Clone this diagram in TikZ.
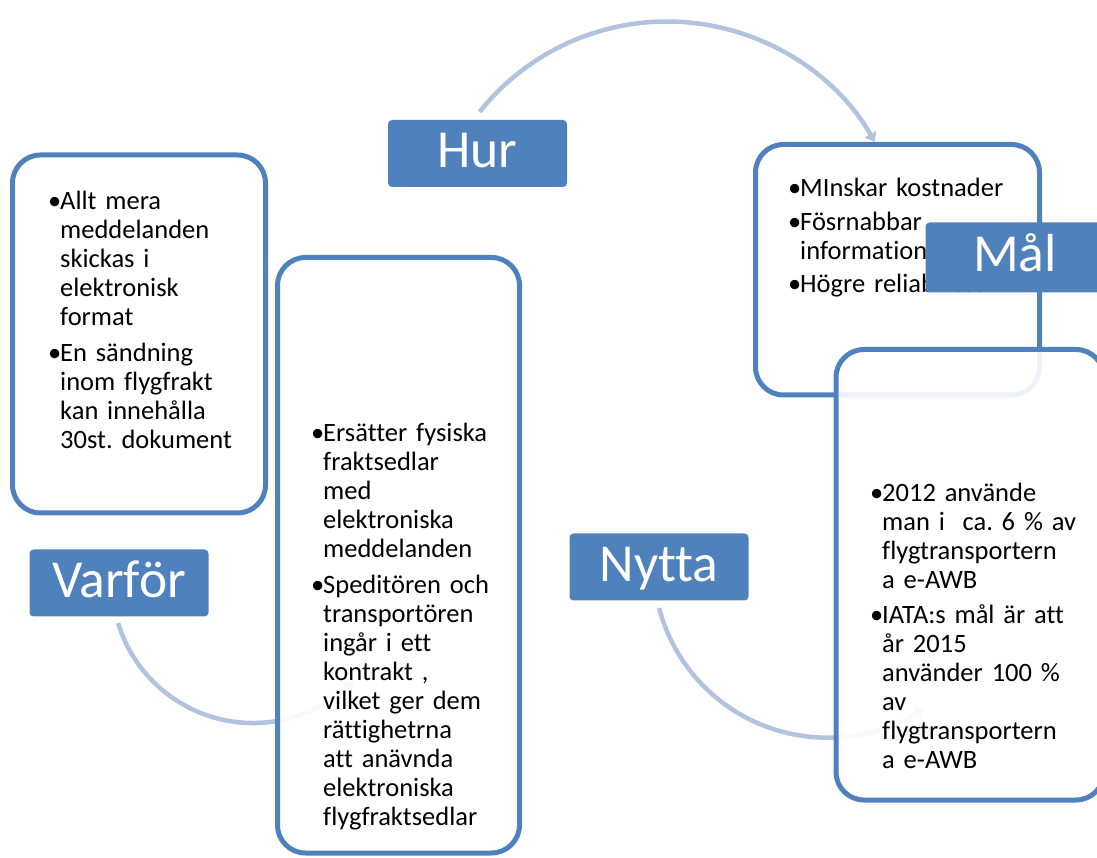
\documentclass[tikz,border=0pt]{standalone}
\usepackage{fontspec}
\setmainfont{Carlito}[Ligatures=NoCommon]
\usetikzlibrary{arrows.meta,calc}
\definecolor{boxblue}{RGB}{79,129,189}
\definecolor{arcblue}{RGB}{178,195,224}
\newcommand{\bul}{\makebox[12pt][l]{•}}
\newcommand{\hangit}{\hangindent=12pt\hangafter=1\relax}
\tikzset{
  panel/.style={draw=boxblue, line width=5pt, rounded corners=28pt, fill=white, fill opacity=0.9, inner sep=0pt},
  lab/.style={fill=boxblue, text=white, rounded corners=4pt, minimum width=179pt, minimum height=67pt,
    inner sep=0pt, font=\fontsize{53.5}{64}\selectfont, text height=37pt, text depth=8pt},
  body/.style={anchor=base west, inner sep=0pt, text width=400pt, font=\fontsize{26.5}{29}\selectfont\frenchspacing, text=black},
  conn/.style={draw=arcblue, line width=4.5pt},
  tip/.style={-{Triangle[length=9pt,width=13pt]}}
}
\begin{document}
\begin{tikzpicture}[x=1pt,y=1pt]
\useasboundingbox (0,0) rectangle (1097,857);
\clip (0,0) rectangle (1097,857);
% connector start points
\coordinate (c1) at (667,596);
\coordinate (c2) at (253,275);
\coordinate (c3) at (827,293);
\coordinate (a1s) at ($(c1)+(141.5:239.5)$);
\coordinate (a2s) at ($(c2)+(-163.1:141)$);
\coordinate (a3s) at ($(c3)+(-165.3:173.6)$);
% connectors
\draw[conn,tip] (a1s) arc[start angle=141.5, end angle=29.8, radius=239.5pt];
\draw[conn,tip] (a2s) arc[start angle=-163.1, end angle=-44.7, radius=141pt];
\draw[conn,tip] (a3s) arc[start angle=-165.3, end angle=-56, radius=173.6pt];
% box 1
\node[panel, minimum width=253pt, minimum height=358pt] (b1) at (139,523) {};
\node[body] (t1) at (48,647) {\hangit\bul Allt mera\newline meddelanden\newline skickas i\newline elektronisk\newline format\par
\setlength{\parskip}{7pt}\hangit\bul En sändning\newline inom flygfrakt\newline kan innehålla\newline 30st. dokument\par};
% box 2
\node[panel, minimum width=242pt, minimum height=595.5pt] (b2) at (398.5,301.75) {};
\node[body] (t2) at (311,415) {\hangit\bul Ersätter fysiska\newline fraktsedlar\newline med\newline elektroniska\newline meddelanden\par
\setlength{\parskip}{7pt}\hangit\bul Speditören och\newline transportören\newline ingår i ett\newline kontrakt ,\newline vilket ger dem\newline rättighetrna\newline att anävnda\newline elektroniska\newline flygfraktsedlar\par};
% box 3
\node[panel, minimum width=284pt, minimum height=250.5pt] (b3) at (897.5,587.25) {};
\node[body] (t3) at (788,660) {\hangit\bul MInskar kostnader\par
\setlength{\parskip}{4.5pt}\hangit\bul Fösrnabbar\newline information\par
\hangit\bul Högre reliabilitet\par};
% box 4
\node[panel, minimum width=268pt, minimum height=450.5pt] (b4) at (970,282.25) {};
\node[body] (t4) at (870,355) {\hangit\bul 2012 använde\newline man i\ \ ca. 6 \% av\newline flygtransportern\newline a e-AWB\par
\setlength{\parskip}{6pt}\hangit\bul IATA:s mål är att\newline år 2015\newline använder 100 \%\newline av\newline flygtransportern\newline a e-AWB\par};
% labels
\node[lab] (hur) at (477.5,703.5) {Hur};
\node[lab] (varfor) at (119,274) {Varför};
\node[lab] (nytta) at (659,290) {Nytta};
\node[lab, minimum height=70pt] (mal) at (1015,599.5) {Mål};
\end{tikzpicture}
\end{document}
